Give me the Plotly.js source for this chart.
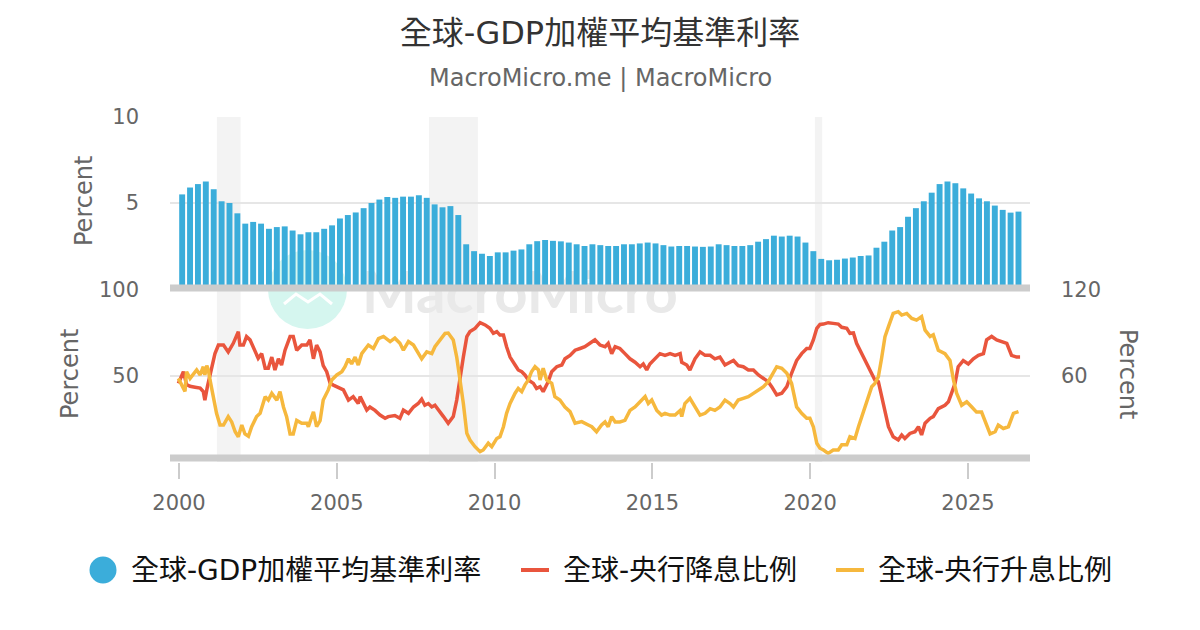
<!DOCTYPE html>
<html>
<head>
<meta charset="utf-8">
<script src="https://cdn.plot.ly/plotly-3.0.1.min.js"></script>
<style>html,body{margin:0;padding:0;background:#fff;}#chart{width:1200px;height:630px;}</style>
</head>
<body>
<div id="chart"></div>
<script>
// ---- data ----
// GDP-weighted policy rate, quarterly from 2000.1
const startYear = 2000.1;
const step = 0.25;
const rateGDP = [5.5,5.9,6.1,6.25,5.8,5.1,5.0,4.4,3.8,3.9,
 3.8,3.5,3.6,3.64,3.4,3.18,3.3,3.3,3.5,3.7,
 4.1,4.3,4.45,4.7,5.0,5.2,5.35,5.3,5.37,5.37,
 5.45,5.3,4.92,4.75,4.82,4.3,2.6,2.2,2.05,1.92,
 2.13,2.13,2.23,2.3,2.6,2.78,2.85,2.8,2.77,2.7,
 2.6,2.5,2.6,2.55,2.5,2.5,2.6,2.6,2.65,2.7,
 2.65,2.55,2.47,2.5,2.5,2.47,2.45,2.47,2.6,2.55,
 2.5,2.5,2.55,2.75,2.9,3.1,3.05,3.1,3.05,2.7,
 2.2,1.75,1.67,1.7,1.77,1.83,1.92,1.95,2.4,2.75,
 3.4,3.6,4.2,4.7,5.1,5.6,6.1,6.25,6.15,5.85,
 5.55,5.27,5.1,4.85,4.6,4.44,4.5];

// share of central banks cutting (dates as decimal years)
const cutDates = [1999.98,2000.14,2000.24,2000.35,2000.51,2000.67,2000.77,2000.82,2000.90,2001.04,
 2001.14,2001.25,2001.41,2001.56,2001.72,2001.88,2001.93,2002.04,2002.14,2002.25,
 2002.41,2002.51,2002.62,2002.73,2002.83,2002.94,2003.04,2003.15,2003.25,2003.36,
 2003.52,2003.62,2003.73,2003.89,2004.05,2004.15,2004.26,2004.36,2004.47,2004.57,
 2004.68,2004.79,2004.89,2005.00,2005.21,2005.37,2005.52,2005.68,2005.74,2005.95,
 2006.05,2006.21,2006.37,2006.53,2006.63,2006.84,2007.00,2007.11,2007.27,2007.43,
 2007.58,2007.69,2007.79,2007.90,2008.01,2008.11,2008.22,2008.38,2008.53,2008.69,
 2008.80,2008.90,2009.01,2009.12,2009.22,2009.38,2009.54,2009.70,2009.85,2009.96,
 2010.07,2010.17,2010.28,2010.38,2010.49,2010.65,2010.75,2010.86,2010.96,2011.07,
 2011.23,2011.33,2011.44,2011.54,2011.70,2011.81,2011.97,2012.13,2012.23,2012.39,
 2012.55,2012.71,2012.86,2013.02,2013.18,2013.34,2013.50,2013.60,2013.71,2013.82,
 2013.97,2014.13,2014.29,2014.45,2014.61,2014.71,2014.82,2014.92,2015.08,2015.24,
 2015.40,2015.56,2015.72,2015.88,2015.93,2016.09,2016.19,2016.35,2016.51,2016.67,
 2016.83,2016.98,2017.14,2017.30,2017.46,2017.57,2017.72,2017.88,2018.04,2018.20,
 2018.36,2018.52,2018.67,2018.78,2018.94,2019.10,2019.26,2019.41,2019.57,2019.73,
 2019.89,2019.99,2020.10,2020.21,2020.31,2020.42,2020.57,2020.73,2020.89,2021.00,
 2021.16,2021.26,2021.37,2021.47,2021.58,2021.68,2021.79,2021.90,2022.05,2022.16,
 2022.26,2022.37,2022.48,2022.63,2022.79,2022.90,2023.00,2023.16,2023.32,2023.43,
 2023.53,2023.64,2023.80,2023.90,2024.06,2024.27,2024.38,2024.48,2024.59,2024.69,
 2024.85,2025.01,2025.17,2025.33,2025.49,2025.59,2025.75,2025.91,2026.07,2026.23,
 2026.38,2026.54,2026.65];
const cutShare = [45.7,52.5,45,44,43.5,43,40.9,36,43.8,55.4,
 63,68,68,64,69,75.8,68,68,72.9,71,
 64,60.3,63,54.5,54.5,61,53.5,60,56.4,65,
 72.9,72.9,65,68,68,71,60,68,64,56,
 52.5,45.7,44.7,43.8,41.9,36,38,34,38,30.2,
 32,30,27.3,25.4,26.4,27,25.4,30.2,28.3,32,
 34,36.5,33,34,32,33,30,26.4,22.5,26.4,
 36,49.6,61,72.9,75.8,77.7,81,79.7,77.7,74.8,
 75.8,73.8,73.8,67,61,56.4,53.5,52.5,50.6,47.7,
 45.7,42.8,43.8,40.9,46.7,52.5,55.4,56.4,60,62,
 65,66,67,69,71,68,67,69,63,67,
 66,63,60,58,55.4,57,53.5,57,60,63,
 62,63,62,63,58,56.4,53.5,60,64,62,
 62,60,61,56.4,58,59,56,55.4,53.5,53.5,
 50.6,48.6,46.7,43.8,39,40,43.8,51.6,59,63,
 66,66,71,77.7,80,80.2,81,80.6,80.2,78.3,
 77.7,74.8,75,69,65,61,57,52.5,47.7,46.7,
 38,28.3,20.5,14.7,12.8,15.7,13.7,16.6,17.6,20.5,
 15.7,22.5,25.4,26.4,31,33,35,40,45.7,55.4,
 59,57,60,62,63,71,73,71,70,69,
 62,61,61];

// share of central banks hiking
const hikeDates = [1999.98,2000.19,2000.24,2000.35,2000.56,2000.67,2000.77,2000.82,2000.88,2000.93,
 2000.98,2001.09,2001.19,2001.30,2001.41,2001.56,2001.67,2001.78,2001.88,2001.99,
 2002.09,2002.20,2002.30,2002.46,2002.57,2002.73,2002.83,2002.94,2003.10,2003.20,
 2003.31,2003.41,2003.52,2003.62,2003.73,2003.89,2004.05,2004.10,2004.26,2004.36,
 2004.47,2004.57,2004.73,2004.84,2005.00,2005.16,2005.26,2005.37,2005.47,2005.58,
 2005.68,2005.79,2006.00,2006.16,2006.32,2006.48,2006.69,2006.84,2007.00,2007.11,
 2007.27,2007.43,2007.58,2007.69,2007.85,2008.01,2008.11,2008.27,2008.43,2008.53,
 2008.69,2008.80,2008.90,2009.01,2009.12,2009.22,2009.38,2009.54,2009.64,2009.80,
 2009.91,2010.07,2010.17,2010.28,2010.38,2010.49,2010.65,2010.75,2010.86,2010.96,
 2011.07,2011.17,2011.28,2011.39,2011.44,2011.54,2011.65,2011.81,2011.91,2012.07,
 2012.23,2012.39,2012.55,2012.76,2012.97,2013.08,2013.23,2013.39,2013.50,2013.60,
 2013.71,2013.82,2013.97,2014.13,2014.29,2014.45,2014.61,2014.77,2014.87,2014.98,
 2015.14,2015.29,2015.40,2015.56,2015.72,2015.88,2015.93,2016.03,2016.19,2016.35,
 2016.51,2016.67,2016.83,2016.98,2017.14,2017.30,2017.46,2017.57,2017.72,2017.88,
 2018.04,2018.20,2018.36,2018.52,2018.67,2018.78,2018.94,2019.10,2019.26,2019.41,
 2019.57,2019.73,2019.89,2019.99,2020.10,2020.21,2020.31,2020.42,2020.57,2020.73,
 2020.89,2021.00,2021.16,2021.26,2021.42,2021.53,2021.63,2021.79,2021.95,2022.05,
 2022.16,2022.26,2022.37,2022.48,2022.63,2022.79,2022.90,2023.06,2023.22,2023.37,
 2023.53,2023.64,2023.80,2023.90,2024.06,2024.27,2024.43,2024.54,2024.64,2024.80,
 2024.96,2025.12,2025.27,2025.43,2025.54,2025.70,2025.86,2025.96,2026.12,2026.28,
 2026.44,2026.60];
const hikeShare = [48.6,41,52.5,48.6,53.5,50.6,55.4,50.6,56,53.5,
 48,38,28.3,21.5,21.5,26.4,23.3,17.6,14.7,21.5,
 16.3,15,20.4,26.4,28.3,38,36,39.9,36,40.9,
 32,26.4,16.3,16.3,24.2,22.5,22.5,20.5,29.2,20.5,
 24,36,41.9,47.7,50.6,52.5,55.4,60,57,61,
 56.4,63,68,66,71.7,73,70,72,69,65,
 70,68,63,60,64,63,67,71,74.8,75,
 71,61,49.6,34,16.7,12.8,8.9,6,7,10.9,
 8.9,13.7,14.7,20.5,28.3,34,40,42.8,40.9,44.7,
 47.7,52.5,55.4,53.5,47.7,54.5,47.7,45.7,38,36,
 32,29.3,22.5,23.5,21.5,20.5,17.6,21.5,23.3,20.5,
 26.4,23.3,23.3,24.2,30,32,35,38,34,36,
 30,27.3,28.3,27.3,27.3,30,26.4,34,37,32,
 27.3,28.3,31,30,32,36,34,32,36,37,
 38,39.9,41.9,43.8,46.7,50.6,55.4,54.5,51.6,45.7,
 32,28.3,25.4,25.4,20.5,10.9,8,7,5,7,
 7,10,10,14.7,13.7,20.5,26.4,36,43.8,45.7,
 49.6,60,72.9,78.7,86.4,87.4,85.4,86.4,83.5,82.5,
 84.5,76.7,73,74,65,63,59,47.7,40,33,
 35,32,29,29,24,16.3,17.6,21.5,19.5,20.5,
 28.3,29.3];

const xTicks = [2000,2005,2010,2015,2020,2025];
const recessions = [[2001.2,2001.95],[2007.92,2009.47],[2020.15,2020.38]];
const names = ['全球-GDP加權平均基準利率','全球-央行降息比例','全球-央行升息比例'];
const colors = ['#3badda','#e9553d','#f6b83d'];

const dates = rateGDP.map((_, i) => startYear + i * step);

// ---- layout helpers (pixel -> paper) ----
const L = 170, R = 1030, T = 117, B = 462;
const px = v => (v - L) / (R - L);
const py = v => (B - v) / (B - T);
const FONT = "DejaVu Sans, 'Noto Sans CJK TC', sans-serif";

const traces = [
  {type:'bar', x:dates, y:rateGDP, xaxis:'x', yaxis:'y', marker:{color:colors[0], line:{width:0}}, name:names[0], hoverinfo:'skip'},
  {type:'scatter', mode:'lines', x:cutDates, y:cutShare, xaxis:'x', yaxis:'y2', line:{color:colors[1], width:3.5}, name:names[1], hoverinfo:'skip'},
  {type:'scatter', mode:'lines', x:hikeDates, y:hikeShare, xaxis:'x', yaxis:'y2', line:{color:colors[2], width:3.5}, name:names[2], hoverinfo:'skip'},
  {type:'scatter', mode:'lines', x:[dates[0]], y:[null], xaxis:'x', yaxis:'y3', showlegend:false, hoverinfo:'skip'}
];

const shapes = [];
recessions.forEach(r => shapes.push({type:'rect', xref:'x', yref:'paper', x0:r[0], x1:r[1], y0:0, y1:1, fillcolor:'#f3f3f3', line:{width:0}, layer:'below'}));
// watermark
shapes.push({type:'circle', xref:'paper', yref:'paper', x0:px(268), x1:px(347), y0:py(329), y1:py(250), fillcolor:'#d5f6ef', line:{width:0}, layer:'below'});
shapes.push({type:'path', xref:'paper', yref:'paper', path:`M ${px(284)} ${py(304)} L ${px(296)} ${py(294)} L ${px(308)} ${py(302)} L ${px(320)} ${py(294)} L ${px(332)} ${py(304)}`, line:{color:'#ffffff', width:3}, layer:'below'});
shapes.push({type:'rect', xref:'paper', yref:'paper', x0:px(362), x1:px(678), y0:py(312), y1:py(266), fillcolor:'rgba(0,0,0,0)', line:{width:0}, layer:'below',
  label:{text:'MacroMicro', font:{family:'Lato', size:58, color:'#e9e9e9', weight:'bold'}, textposition:'middle center'}});
// thick axis bands
shapes.push({type:'line', xref:'paper', yref:'paper', x0:0, x1:1, y0:py(288), y1:py(288), line:{color:'#cccccc', width:7}, layer:'above'});
shapes.push({type:'line', xref:'paper', yref:'paper', x0:0, x1:1, y0:py(458), y1:py(458), line:{color:'#cccccc', width:7}, layer:'above'});
// legend symbols
shapes.push({type:'circle', xref:'paper', yref:'paper', x0:px(89.5), x1:px(116.5), y0:py(583.5), y1:py(556.5), fillcolor:colors[0], line:{width:0}});
shapes.push({type:'line', xref:'paper', yref:'paper', x0:px(521), x1:px(549), y0:py(570), y1:py(570), line:{color:colors[1], width:4}});
shapes.push({type:'line', xref:'paper', yref:'paper', x0:px(836), x1:px(864), y0:py(570), y1:py(570), line:{color:colors[2], width:4}});

const axTitle = {size:24, color:'#666', family:FONT};
const annotations = [
  {text:'MacroMicro.me | MacroMicro', xref:'paper', yref:'paper', x:0.5, y:py(78), xanchor:'center', yanchor:'middle', showarrow:false, font:{size:24, color:'#666', family:FONT}},
  {text:'Percent', xref:'paper', yref:'paper', x:px(84), y:py(201), textangle:-90, xanchor:'center', yanchor:'middle', showarrow:false, font:axTitle},
  {text:'Percent', xref:'paper', yref:'paper', x:px(70), y:py(374), textangle:-90, xanchor:'center', yanchor:'middle', showarrow:false, font:axTitle},
  {text:'Percent', xref:'paper', yref:'paper', x:px(1128), y:py(374), textangle:90, xanchor:'center', yanchor:'middle', showarrow:false, font:axTitle},
  {text:names[0], xref:'paper', yref:'paper', x:px(129), y:py(570), xanchor:'left', yanchor:'middle', showarrow:false, font:{size:28, color:'#111', family:FONT}},
  {text:names[1], xref:'paper', yref:'paper', x:px(561), y:py(570), xanchor:'left', yanchor:'middle', showarrow:false, font:{size:28, color:'#111', family:FONT}},
  {text:names[2], xref:'paper', yref:'paper', x:px(876), y:py(570), xanchor:'left', yanchor:'middle', showarrow:false, font:{size:28, color:'#111', family:FONT}}
];

const tickFont = {size:21, color:'#666', family:FONT};
const layout = {
  width:1200, height:630,
  margin:{l:L, r:1200-R, t:T, b:630-B, pad:0},
  paper_bgcolor:'#fff', plot_bgcolor:'#fff',
  font:{family:FONT},
  showlegend:false,
  bargap:0.25,
  title:{text:'全球-GDP加權平均基準利率', x:0.5, xanchor:'center', y:1-33/630, yanchor:'middle', font:{size:32, color:'#333', family:FONT}},
  xaxis:{range:[1999.715, 2026.965], tickvals:xTicks, ticktext:xTicks.map(String), anchor:'y2',
    ticks:'outside', ticklen:16, tickwidth:2, tickcolor:'#cccccc', showgrid:false, zeroline:false, showline:false,
    tickfont:tickFont, ticklabelstandoff:6},
  yaxis:{domain:[py(289), 1], range:[0,10], tickvals:[5,10], anchor:'x', showgrid:true, gridcolor:'#e6e6e6', gridwidth:2,
    zeroline:false, showline:false, ticks:'', tickfont:tickFont, ticklabelstandoff:30},
  yaxis2:{domain:[0, py(290)], range:[0,100], tickvals:[50,100], anchor:'x', showgrid:true, gridcolor:'#e6e6e6', gridwidth:2,
    zeroline:false, showline:false, ticks:'', tickfont:tickFont, ticklabelstandoff:30},
  yaxis3:{overlaying:'y2', side:'right', range:[0,120], tickvals:[60,120], anchor:'x', showgrid:false,
    zeroline:false, showline:false, ticks:'', tickfont:tickFont, ticklabelstandoff:30},
  shapes:shapes,
  annotations:annotations
};

Plotly.newPlot('chart', traces, layout, {staticPlot:true, displayModeBar:false});
</script>
</body>
</html>
